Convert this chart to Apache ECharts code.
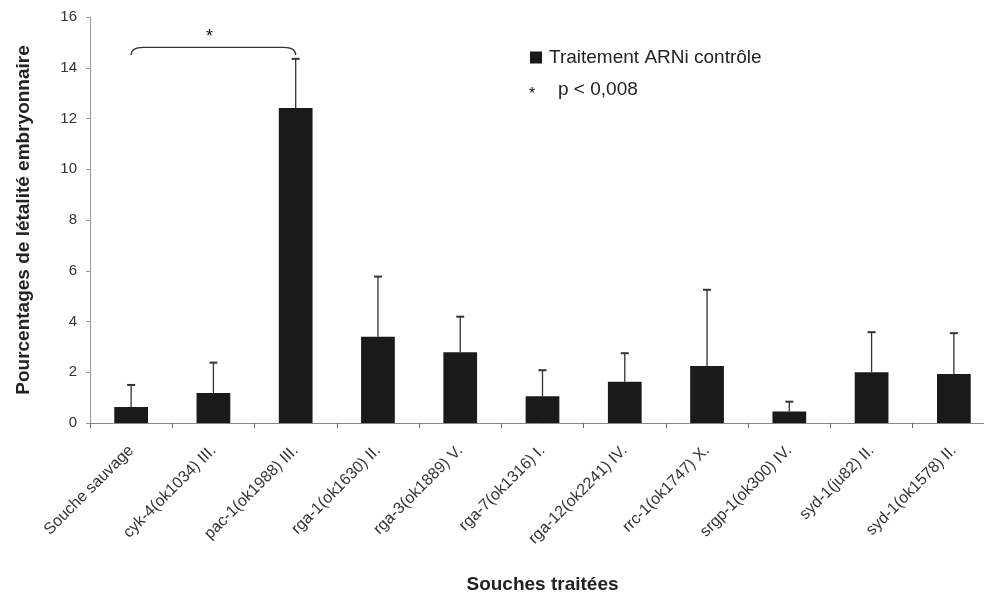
<!DOCTYPE html>
<html>
<head>
<meta charset="utf-8">
<script src="https://cdn.jsdelivr.net/npm/echarts@6/dist/echarts.min.js"></script>
<style>html,body{margin:0;padding:0;background:#fff;}#c{width:984px;height:596px;}</style>
</head>
<body>
<div id="c"></div>
<script>
var categories = ['Souche sauvage','cyk-4(ok1034) III.','pac-1(ok1988) III.','rga-1(ok1630) II.','rga-3(ok1889) V.','rga-7(ok1316) I.','rga-12(ok2241) IV.','rrc-1(ok1747) X.','srgp-1(ok300) IV.','syd-1(ju82) II.','syd-1(ok1578) II.'];
var values = [0.63, 1.18, 12.41, 3.40, 2.79, 1.05, 1.63, 2.25, 0.45, 2.00, 1.93];
var errorTops = [1.50, 2.38, 14.35, 5.77, 4.19, 2.08, 2.75, 5.25, 0.84, 3.58, 3.54];
var yTicks = [0, 2, 4, 6, 8, 10, 12, 14, 16];
var bracket = {from: 0, to: 2, level: 14.8, drop: 0.3, label: '*'};

var FONT = 'Liberation Sans, Arial, sans-serif';
var chart = echarts.init(document.getElementById('c'));

var errData = values.map(function (v, i) { return [i, v, errorTops[i]]; });

chart.setOption({
  backgroundColor: '#ffffff',
  animation: false,
  textStyle: {fontFamily: FONT},
  grid: {left: 90, top: 17, width: 905, bottom: 173, containLabel: false, outerBoundsMode: 'none'},
  legend: {
    left: 525, top: 43, itemWidth: 12, itemHeight: 12,
    data: [{name: 'Traitement ARNi contrôle', icon: 'rect'}],
    textStyle: {fontSize: 19, color: '#222', fontFamily: FONT, padding: [0, 0, 0, 2]}
  },
  xAxis: {
    type: 'category', data: categories,
    name: 'Souches traitées', nameLocation: 'middle', nameGap: 152,
    nameTextStyle: {fontSize: 19, fontWeight: 'bold', color: '#222'},
    axisLine: {lineStyle: {color: '#888', width: 1}},
    axisTick: {show: true, length: 5, lineStyle: {color: '#666'}},
    axisLabel: {rotate: 45, fontSize: 16, color: '#333', margin: 25, interval: 0}
  },
  yAxis: {
    type: 'value', min: 0, max: 16, interval: 2,
    name: 'Pourcentages de létalité embryonnaire', nameLocation: 'middle', nameGap: 57,
    nameTextStyle: {fontSize: 19, fontWeight: 'bold', color: '#222'},
    axisLine: {show: true, lineStyle: {color: '#999'}},
    axisTick: {show: true, length: 4, lineStyle: {color: '#999'}},
    splitLine: {show: false},
    axisLabel: {fontSize: 15, color: '#333', margin: 13,
      formatter: function (v) { return yTicks.indexOf(v) >= 0 ? String(v) : ''; }}
  },
  series: [
    {
      name: 'Traitement ARNi contrôle', type: 'bar', data: values,
      barWidth: '41%', itemStyle: {color: '#1a1a1a'}, z: 2
    },
    {
      name: 'err', type: 'custom', data: errData, z: 1,
      renderItem: function (params, api) {
        var i = api.value(0);
        var top = api.coord([i, api.value(2)]);
        var base = api.coord([i, api.value(1)]);
        var cap = 4;
        return {
          type: 'group',
          children: [
            {type: 'line', shape: {x1: top[0], y1: top[1], x2: base[0], y2: base[1]}, style: {stroke: '#333', lineWidth: 1.3}},
            {type: 'line', shape: {x1: top[0] - cap, y1: top[1], x2: top[0] + cap, y2: top[1]}, style: {stroke: '#333', lineWidth: 2}}
          ]
        };
      }
    },
    {
      name: 'bracket', type: 'custom', data: [[bracket.from, bracket.to, bracket.level, bracket.drop]], z: 3,
      renderItem: function (params, api) {
        var a = api.coord([api.value(0), api.value(2)]);
        var b = api.coord([api.value(1), api.value(2)]);
        var lowA = api.coord([api.value(0), api.value(2) - api.value(3)]);
        var r = 8;
        var path = 'M' + a[0] + ' ' + lowA[1] +
          ' Q' + a[0] + ' ' + a[1] + ' ' + (a[0] + r * 1.5) + ' ' + a[1] +
          ' L' + (b[0] - r * 1.5) + ' ' + b[1] +
          ' Q' + b[0] + ' ' + b[1] + ' ' + b[0] + ' ' + lowA[1];
        var mid = (a[0] + b[0]) / 2;
        return {
          type: 'group',
          children: [
            {type: 'path', shape: {pathData: path}, style: {stroke: '#333', lineWidth: 1.3, fill: null}},
            {type: 'text', x: mid - 4, y: a[1] - 10, style: {text: bracket.label, fontSize: 18, fill: '#111', fontFamily: FONT, align: 'center', verticalAlign: 'middle'}}
          ]
        };
      }
    }
  ],
  graphic: [
    {type: 'text', left: 529, top: 87, style: {text: '*', fontSize: 16, fill: '#111', fontFamily: FONT}},
    {type: 'text', left: 558, top: 80, style: {text: 'p < 0,008', fontSize: 19, fill: '#222', fontFamily: FONT}}
  ]
});
</script>
</body>
</html>
